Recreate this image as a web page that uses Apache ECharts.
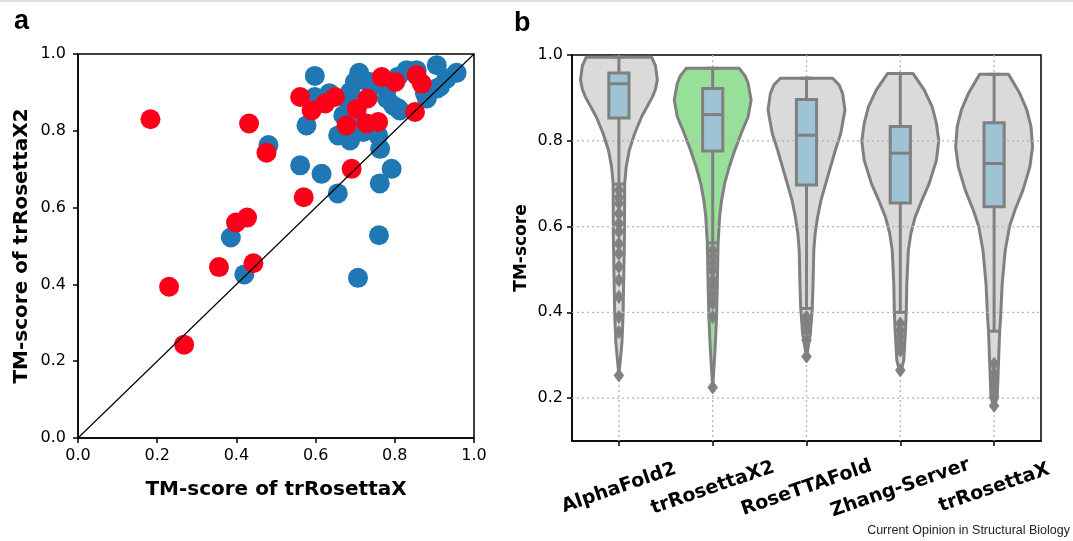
<!DOCTYPE html>
<html>
<head>
<meta charset="utf-8">
<script src="https://cdn.jsdelivr.net/npm/echarts@6/dist/echarts.min.js"></script>
<style>
  html, body { margin: 0; padding: 0; background: #fff; }
  #main { width: 1073px; height: 541px; }
</style>
</head>
<body>
<div id="main"></div>
<script>
// ---- panel a: TM-score of trRosettaX (x) vs trRosettaX2 (y)
var bluePoints = [
  [0.598, 0.943], [0.710, 0.951], [0.699, 0.927], [0.737, 0.927], [0.830, 0.958],
  [0.906, 0.971], [0.956, 0.951], [0.931, 0.936], [0.906, 0.910], [0.881, 0.884],
  [0.598, 0.888], [0.577, 0.814], [0.657, 0.788], [0.687, 0.775], [0.720, 0.797],
  [0.758, 0.788], [0.763, 0.753], [0.796, 0.866], [0.813, 0.853], [0.687, 0.866],
  [0.670, 0.840], [0.780, 0.884], [0.687, 0.901], [0.561, 0.710], [0.615, 0.688],
  [0.792, 0.701], [0.656, 0.637], [0.762, 0.663], [0.386, 0.522], [0.420, 0.426],
  [0.707, 0.417], [0.760, 0.528], [0.481, 0.763], [0.855, 0.958], [0.808, 0.941],
  [0.876, 0.898], [0.914, 0.915], [0.635, 0.898], [0.741, 0.915], [0.779, 0.906],
  [0.808, 0.859], [0.720, 0.820], [0.736, 0.802]
];
var redPoints = [
  [0.183, 0.830], [0.432, 0.819], [0.476, 0.743], [0.561, 0.888], [0.590, 0.853],
  [0.624, 0.871], [0.649, 0.888], [0.678, 0.814], [0.704, 0.857], [0.731, 0.884],
  [0.729, 0.819], [0.758, 0.823], [0.767, 0.940], [0.801, 0.927], [0.851, 0.849],
  [0.855, 0.945], [0.868, 0.923], [0.691, 0.701], [0.570, 0.627], [0.399, 0.561],
  [0.427, 0.574], [0.356, 0.445], [0.443, 0.455], [0.230, 0.394], [0.268, 0.243]
];
var diagonal = [[0, 0], [1, 1]];

// ---- panel b: violins
var categories = ['AlphaFold2', 'trRosettaX2', 'RoseTTAFold', 'Zhang-Server', 'trRosettaX'];
// outline: [TM-score, relative width]
var af2Shape = [[0.995, 0.85], [0.975, 0.95], [0.942, 1.0], [0.92, 0.95], [0.903, 0.875], [0.856, 0.59],
  [0.817, 0.41], [0.778, 0.27], [0.739, 0.19], [0.70, 0.15], [0.58, 0.145], [0.50, 0.13],
  [0.40, 0.11], [0.33, 0.08], [0.253, 0]];
var tx2Shape = [[0.969, 0.69], [0.95, 0.85], [0.934, 0.92], [0.895, 1.0], [0.856, 0.92], [0.817, 0.74],
  [0.778, 0.575], [0.739, 0.43], [0.70, 0.31], [0.661, 0.23], [0.623, 0.18], [0.562, 0.14],
  [0.467, 0.12], [0.389, 0.10], [0.311, 0.06], [0.225, 0]];
var rtfShape = [[0.946, 0.68], [0.93, 0.85], [0.91, 0.94], [0.872, 1.0], [0.817, 0.89], [0.778, 0.75],
  [0.739, 0.625], [0.70, 0.50], [0.661, 0.375], [0.623, 0.29], [0.584, 0.225], [0.545, 0.19],
  [0.467, 0.17], [0.409, 0.15], [0.35, 0.10], [0.295, 0]];
var zhangShape = [[0.957, 0.33], [0.918, 0.625], [0.879, 0.83], [0.84, 0.94], [0.80, 1.0], [0.755, 0.94],
  [0.70, 0.75], [0.661, 0.56], [0.623, 0.39], [0.584, 0.275], [0.545, 0.21], [0.467, 0.17],
  [0.40, 0.155], [0.35, 0.13], [0.288, 0.09], [0.256, 0]];
var trxShape = [[0.955, 0.375], [0.91, 0.67], [0.872, 0.85], [0.833, 0.96], [0.786, 1.0], [0.739, 0.93],
  [0.685, 0.75], [0.638, 0.54], [0.60, 0.40], [0.545, 0.29], [0.467, 0.21], [0.389, 0.17],
  [0.356, 0.145], [0.272, 0.11], [0.20, 0.08], [0.18, 0]];
var shapes = [af2Shape, tx2Shape, rtfShape, zhangShape, trxShape];

// [whisker low, q1, median, q3, whisker high]
var boxStats = [
  [0.699, 0.853, 0.933, 0.958, 0.995],
  [0.562, 0.776, 0.861, 0.922, 0.969],
  [0.409, 0.697, 0.813, 0.896, 0.946],
  [0.400, 0.655, 0.771, 0.833, 0.957],
  [0.356, 0.646, 0.747, 0.842, 0.955]
];
var outliers = [
  [0.685, 0.668, 0.654, 0.630, 0.607, 0.588, 0.560, 0.537, 0.506, 0.475, 0.436, 0.389, 0.354, 0.253],
  [0.545, 0.529, 0.514, 0.498, 0.475, 0.459, 0.440, 0.421, 0.389, 0.225],
  [0.389, 0.374, 0.358, 0.335, 0.297],
  [0.374, 0.358, 0.343, 0.327, 0.311, 0.265],
  [0.280, 0.257, 0.241, 0.226, 0.202, 0.182]
];
var ticksB = [0.2, 0.4, 0.6, 0.8, 1.0];

var bodyColors = ['#dadada', '#98e09a', '#dadada', '#dadada', '#dadada'];
var edge = '#808080';
var gridDot = '#b4b4b4';

var chart = echarts.init(document.getElementById('main'), null, {renderer: 'canvas'});

function violinBody(params, api) {
  var i = api.value(0);
  var band = api.size([1, 0])[0];
  var cx = api.coord([i, 0.5])[0];
  var left = [], right = [];
  shapes[i].forEach(function (p) {
    var y = api.coord([i, p[0]])[1];
    var hw = p[1] * 0.41 * band;
    left.push([cx - hw, y]);
    right.push([cx + hw, y]);
  });
  return {
    type: 'polygon',
    shape: {points: left.concat(right.reverse())},
    style: {fill: bodyColors[i], stroke: edge, lineWidth: 3, lineJoin: 'round'}
  };
}

function violinBox(params, api) {
  var i = api.value(0);
  var band = api.size([1, 0])[0];
  var cx = api.coord([i, 0.5])[0];
  var s = boxStats[i];
  var yLo = api.coord([i, s[0]])[1], yQ1 = api.coord([i, s[1]])[1];
  var yMed = api.coord([i, s[2]])[1], yQ3 = api.coord([i, s[3]])[1];
  var yHi = api.coord([i, s[4]])[1];
  var bw = band * 0.215, cw = band * 0.13;
  var ln = {stroke: edge, lineWidth: 3};
  var kids = [
    {type: 'line', shape: {x1: cx, y1: yHi, x2: cx, y2: yLo}, style: ln},
    {type: 'line', shape: {x1: cx - cw / 2, y1: yHi, x2: cx + cw / 2, y2: yHi}, style: ln},
    {type: 'line', shape: {x1: cx - cw / 2, y1: yLo, x2: cx + cw / 2, y2: yLo}, style: ln},
    {type: 'rect', shape: {x: cx - bw / 2, y: yQ3, width: bw, height: yQ1 - yQ3},
      style: {fill: '#9dc3d5', stroke: edge, lineWidth: 3}},
    {type: 'line', shape: {x1: cx - bw / 2, y1: yMed, x2: cx + bw / 2, y2: yMed}, style: ln}
  ];
  outliers[i].forEach(function (v) {
    var y = api.coord([i, v])[1];
    kids.push({type: 'polygon',
      shape: {points: [[cx, y - 6.5], [cx + 4.8, y], [cx, y + 6.5], [cx - 4.8, y]]},
      style: {fill: edge, stroke: '#858585', lineWidth: 1}});
  });
  return {type: 'group', children: kids};
}

function hGrid(params, api) {
  var cs = params.coordSys;
  var y = api.coord([0, api.value(1)])[1];
  return {type: 'line', shape: {x1: cs.x, y1: y, x2: cs.x + cs.width, y2: y},
    style: {stroke: gridDot, lineWidth: 1.3, lineDash: [2, 3]}};
}

function vGrid(params, api) {
  var cs = params.coordSys;
  var x = api.coord([api.value(0), 0.5])[0];
  return {type: 'line', shape: {x1: x, y1: cs.y, x2: x, y2: cs.y + cs.height},
    style: {stroke: gridDot, lineWidth: 1.3, lineDash: [2, 3]}};
}

var tickFont = {color: '#000', fontSize: 16, fontFamily: 'DejaVu Sans'};
var titleFont = {color: '#000', fontSize: 20, fontWeight: 'bold', fontFamily: 'DejaVu Sans'};

var option = {
  backgroundColor: '#fff',
  animation: false,
  grid: [
    {left: 78, top: 54, width: 396, height: 384, show: true, borderColor: '#000', borderWidth: 1.5},
    {left: 572, top: 55, width: 469, height: 386, show: true, borderColor: '#000', borderWidth: 1.5}
  ],
  xAxis: [
    {
      gridIndex: 0, type: 'value', min: 0, max: 1, interval: 0.2,
      name: 'TM-score of trRosettaX', nameLocation: 'middle', nameGap: 42, nameTextStyle: titleFont,
      axisLine: {show: true, lineStyle: {color: '#000', width: 1.5}},
      axisTick: {show: true, length: 5, lineStyle: {color: '#000', width: 1.5}},
      axisLabel: Object.assign({margin: 10, formatter: function (v) { return v.toFixed(1); }}, tickFont),
      splitLine: {show: false}
    },
    {
      gridIndex: 1, type: 'category', data: categories, boundaryGap: true,
      axisLine: {show: true, lineStyle: {color: '#000', width: 1.5}},
      axisTick: {show: true, alignWithLabel: true, length: 5, lineStyle: {color: '#000', width: 1.5}},
      axisLabel: {interval: 0, rotate: 19, align: 'center', verticalAlign: 'middle', margin: 47,
        color: '#000', fontSize: 19, fontWeight: 'bold', fontFamily: 'DejaVu Sans'},
      splitLine: {show: false}
    }
  ],
  yAxis: [
    {
      gridIndex: 0, type: 'value', min: 0, max: 1, interval: 0.2,
      name: 'TM-score of trRosettaX2', nameLocation: 'middle', nameGap: 46, nameTextStyle: titleFont,
      axisLine: {show: true, lineStyle: {color: '#000', width: 1.5}},
      axisTick: {show: true, length: 5, lineStyle: {color: '#000', width: 1.5}},
      axisLabel: Object.assign({margin: 12, formatter: function (v) { return v.toFixed(1); }}, tickFont),
      splitLine: {show: false}
    },
    {
      gridIndex: 1, type: 'value', min: 0.1, max: 1.0,
      name: 'TM-score', nameLocation: 'middle', nameGap: 42,
      nameTextStyle: {color: '#000', fontSize: 17, fontWeight: 'bold', fontFamily: 'DejaVu Sans'},
      axisLine: {show: true, lineStyle: {color: '#000', width: 1.5}},
      axisTick: {show: true, length: 5, customValues: ticksB, lineStyle: {color: '#000', width: 1.5}},
      axisLabel: Object.assign({margin: 9, customValues: ticksB, formatter: function (v) { return v.toFixed(1); }}, tickFont),
      splitLine: {show: false}
    }
  ],
  series: [
    {type: 'scatter', xAxisIndex: 0, yAxisIndex: 0, data: bluePoints, symbolSize: 20,
      itemStyle: {color: '#1f77b4', opacity: 1}, z: 2},
    {type: 'scatter', xAxisIndex: 0, yAxisIndex: 0, data: redPoints, symbolSize: 20,
      itemStyle: {color: '#fd0019', opacity: 1}, z: 3},
    {type: 'line', xAxisIndex: 0, yAxisIndex: 0, data: diagonal, symbol: 'none',
      lineStyle: {color: '#000', width: 1.2}, z: 4},
    {type: 'custom', xAxisIndex: 1, yAxisIndex: 1, renderItem: vGrid, z: 1,
      data: categories.map(function (c, i) { return [i]; }), encode: {x: 0}},
    {type: 'custom', xAxisIndex: 1, yAxisIndex: 1, renderItem: violinBody, z: 2,
      data: categories.map(function (c, i) { return [i]; }), encode: {x: 0}},
    {type: 'custom', xAxisIndex: 1, yAxisIndex: 1, renderItem: hGrid, z: 3,
      data: ticksB.slice(0, 4).map(function (v) { return [0, v]; }), encode: {x: 0, y: 1}},
    {type: 'custom', xAxisIndex: 1, yAxisIndex: 1, renderItem: violinBox, z: 4,
      data: categories.map(function (c, i) { return [i]; }), encode: {x: 0}}
  ],
  graphic: [
    {type: 'rect', left: 0, top: 0, shape: {width: 1073, height: 2}, style: {fill: '#dedede'}},
    {type: 'text', left: 14, top: 8, style: {text: 'a', fill: '#000', font: 'bold 27px "Liberation Sans"'}},
    {type: 'text', left: 514, top: 10, style: {text: 'b', fill: '#000', font: 'bold 27px "Liberation Sans"'}},
    {type: 'text', right: 3, top: 524, style: {text: 'Current Opinion in Structural Biology', fill: '#222', font: '12.5px "Liberation Sans"'}}
  ]
};

chart.setOption(option);
</script>
</body>
</html>
